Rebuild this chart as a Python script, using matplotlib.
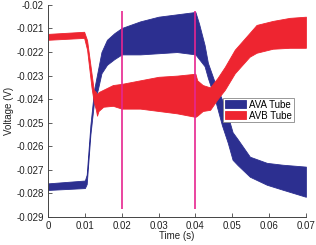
import matplotlib
matplotlib.use("Agg")
import matplotlib.pyplot as plt
import numpy as np

plt.rcParams['font.family'] = ['Liberation Sans', 'DejaVu Sans']

# AVA tube: upper / lower envelope of the ripple band
ava_t = [0.0, 0.0100, 0.0105, 0.0115, 0.0125, 0.0135, 0.0145, 0.016, 0.018, 0.020,
         0.025, 0.030, 0.035, 0.0400, 0.0410, 0.0425, 0.0434, 0.0453, 0.0472,
         0.0488, 0.0501, 0.0515, 0.0548, 0.0594, 0.0637, 0.0700]
ava_hi = [-0.02757, -0.02745, -0.0272, -0.0251, -0.0236, -0.0228, -0.0220, -0.02148,
          -0.0212, -0.02098, -0.0207, -0.0205, -0.0204, -0.0203, -0.0208, -0.0217,
          -0.02246, -0.0233, -0.0240, -0.0247, -0.0254, -0.0257, -0.02644, -0.0267,
          -0.02678, -0.02686]
ava_lo = [-0.02785, -0.02777, -0.0276, -0.0255, -0.0241, -0.0236, -0.0229, -0.02254,
          -0.0223, -0.0221, -0.0221, -0.02205, -0.0220, -0.0221, -0.0223, -0.0226,
          -0.0231, -0.0240, -0.0251, -0.02585, -0.02657, -0.0268, -0.02729, -0.02763,
          -0.02784, -0.02814]

# AVB tube
avb_t = [0.0, 0.0098, 0.0106, 0.0118, 0.0124, 0.0130, 0.0133, 0.0137, 0.0150, 0.0176,
         0.020, 0.025, 0.030, 0.035, 0.0400, 0.0405, 0.0420, 0.0440, 0.0460, 0.0480,
         0.0507, 0.0547, 0.0566, 0.0610, 0.0656, 0.0700]
avb_hi = [-0.02123, -0.02114, -0.0215, -0.0229, -0.0236, -0.0237, -0.0238, -0.0237,
          -0.0236, -0.0234, -0.02335, -0.0232, -0.02305, -0.0230, -0.02292, -0.0232,
          -0.0234, -0.0235, -0.0231, -0.02263, -0.0219, -0.02119, -0.02085, -0.02068,
          -0.02055, -0.0205]
avb_lo = [-0.02148, -0.0214, -0.0219, -0.0235, -0.0241, -0.02445, -0.0247, -0.0245,
          -0.02432, -0.02428, -0.0244, -0.0244, -0.0245, -0.0246, -0.02475, -0.0247,
          -0.0245, -0.02445, -0.0240, -0.0236, -0.0229, -0.0222, -0.02203, -0.02186,
          -0.02182, -0.02182]

markers_t = [0.02, 0.04]
xticks = [0, 0.01, 0.02, 0.03, 0.04, 0.05, 0.06, 0.07]
xtick_labels = ["0", "0.01", "0.02", "0.03", "0.04", "0.05", "0.06", "0.07"]
yticks = [-0.029, -0.028, -0.027, -0.026, -0.025, -0.024, -0.023, -0.022, -0.021, -0.02]
ytick_labels = ["-0.029", "-0.028", "-0.027", "-0.026", "-0.025", "-0.024",
                "-0.023", "-0.022", "-0.021", "-0.02"]

blue = '#2c2f90'
red = '#ee2530'
magenta = '#e6258f'
gray = '#444444'

fig = plt.figure(figsize=(3.16, 2.45), dpi=100)
ax = fig.add_axes([0.152, 0.114, 0.816, 0.866])

ax.fill_between(ava_t, ava_lo, ava_hi, color=blue, lw=0.6, label='AVA Tube')
ax.fill_between(avb_t, avb_lo, avb_hi, color=red, lw=0.6, label='AVB Tube')
ax.vlines(markers_t, -0.02865, -0.02025, color=magenta, lw=1.2)

ax.set_xlim(0, 0.07)
ax.set_ylim(-0.029, -0.02)
ax.set_xticks(xticks)
ax.set_xticklabels(xtick_labels)
ax.set_yticks(yticks)
ax.set_yticklabels(ytick_labels)
ax.tick_params(direction='in', length=3, width=0.6, labelsize=7, colors=gray,
               labelcolor='#222222', pad=3)
for s in ['top', 'right']:
    ax.spines[s].set_visible(False)
for s in ['left', 'bottom']:
    ax.spines[s].set_color(gray)
    ax.spines[s].set_linewidth(0.7)

ax.set_xlabel("Time (s)", fontsize=7, color='#222222', labelpad=0)
ax.set_ylabel("Voltage (V)", fontsize=7, color='#222222', labelpad=2)

leg = ax.legend(loc='upper left', bbox_to_anchor=(0.678, 0.563), fontsize=7,
                fancybox=False, framealpha=1, edgecolor='#888888',
                handlelength=2.2, handleheight=0.8, handletextpad=0.3,
                labelspacing=0.1, borderpad=0.2, borderaxespad=0)
leg.get_frame().set_linewidth(0.6)

fig.savefig("out.png", dpi=100)
